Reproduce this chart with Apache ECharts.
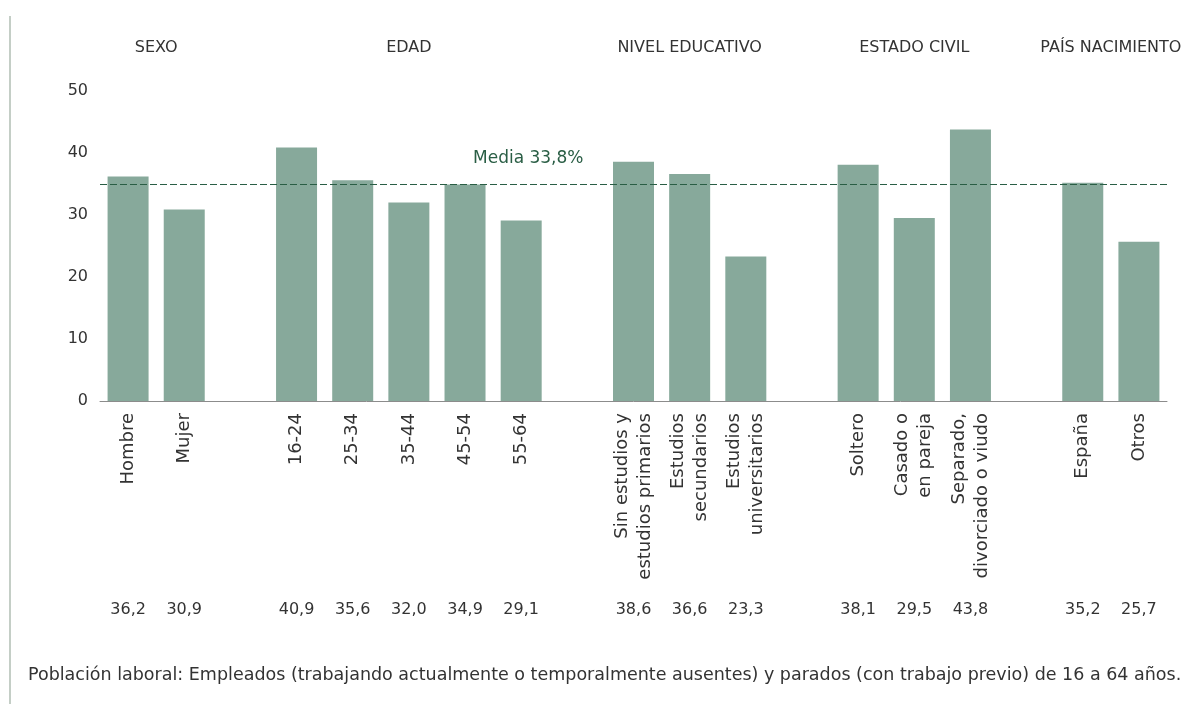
<!DOCTYPE html>
<html>
<head>
<meta charset="utf-8">
<script src="https://cdn.jsdelivr.net/npm/echarts@6/dist/echarts.min.js"></script>
<style>
  html, body { margin: 0; padding: 0; background: #ffffff; }
  .wrap { position: relative; width: 1199px; height: 711px; }
  .borde { position: absolute; left: 9px; top: 16px; width: 2px; height: 688px; background: #c4cec6; }
  #chart { position: absolute; left: 0; top: 0; width: 1199px; height: 711px; }
</style>
</head>
<body>
<div class="wrap">
  <div class="borde"></div>
  <div id="chart"></div>
</div>
<script>
// categorias (los '' son huecos entre grupos)
const categorias = [
  'Hombre', 'Mujer', '',
  '16-24', '25-34', '35-44', '45-54', '55-64', '',
  'Sin estudios y\nestudios primarios', 'Estudios\nsecundarios', 'Estudios\nuniversitarios', '',
  'Soltero', 'Casado o\nen pareja', 'Separado,\ndivorciado o viudo', '',
  'España', 'Otros'
]
const valores = [
  36.2, 30.9, null,
  40.9, 35.6, 32.0, 34.9, 29.1, null,
  38.6, 36.6, 23.3, null,
  38.1, 29.5, 43.8, null,
  35.2, 25.7
]
// cabeceras de grupo y su posicion (en unidades de categoria)
const grupos = ['SEXO', 'EDAD', 'NIVEL EDUCATIVO', 'ESTADO CIVIL', 'PAÍS NACIMIENTO']
const posGrupos = [1, 5.5, 10.5, 14.5, 18]
const yTicks = [0, 10, 20, 30, 40, 50]
const mediaLinea = 35
const mediaTexto = 'Media 33,8%'
const nota = 'Población laboral: Empleados (trabajando actualmente o temporalmente ausentes) y parados (con trabajo previo) de 16 a 64 años.'

const fuente = 'DejaVu Sans'
const chart = echarts.init(document.getElementById('chart'))
chart.setOption({
  animation: false,
  textStyle: { fontFamily: fuente },
  title: {
    text: nota,
    left: 23,
    top: 661,
    textStyle: { fontFamily: fuente, fontSize: 17.5, fontWeight: 'normal', color: '#333' }
  },
  grid: { left: 100, right: 32, top: 91, bottom: 310 },
  xAxis: [
    {
      type: 'category',
      data: categorias,
      axisLine: { lineStyle: { color: '#8c8c8c', width: 1 } },
      axisTick: { show: false },
      axisLabel: {
        interval: 0,
        rotate: 90,
        margin: 12,
        fontSize: 18,
        lineHeight: 23,
        color: '#333'
      }
    },
    {
      type: 'category',
      data: categorias,
      position: 'bottom',
      axisLine: { show: false },
      axisTick: { show: false },
      axisLabel: {
        interval: 0,
        margin: 201,
        fontSize: 16,
        color: '#333',
        formatter: function (v, i) {
          return valores[i] == null ? '' : valores[i].toFixed(1).replace('.', ',')
        }
      }
    },
    {
      type: 'value',
      position: 'top',
      min: 0,
      max: categorias.length,
      axisLine: { show: false },
      axisTick: { show: false },
      splitLine: { show: false },
      axisLabel: {
        customValues: posGrupos,
        margin: 35,
        fontSize: 16,
        color: '#333',
        formatter: function (v) {
          return grupos[posGrupos.indexOf(v)]
        }
      }
    }
  ],
  yAxis: {
    type: 'value',
    min: 0,
    max: 50,
    interval: 10,
    axisLine: { show: false },
    axisTick: { show: false },
    splitLine: { show: false },
    axisLabel: { margin: 12, fontSize: 16, color: '#333' }
  },
  series: [
    {
      type: 'bar',
      data: valores,
      barWidth: 41,
      itemStyle: { color: '#87a99b' },
      markLine: {
        silent: true,
        symbol: 'none',
        lineStyle: { color: '#2a5e45', type: [7, 3], width: 1.2 },
        label: {
          position: 'insideStartTop',
          distance: [373, 17],
          formatter: mediaTexto,
          fontSize: 17,
          color: '#2a5e45'
        },
        data: [{ yAxis: mediaLinea }]
      }
    }
  ]
})
</script>
</body>
</html>
